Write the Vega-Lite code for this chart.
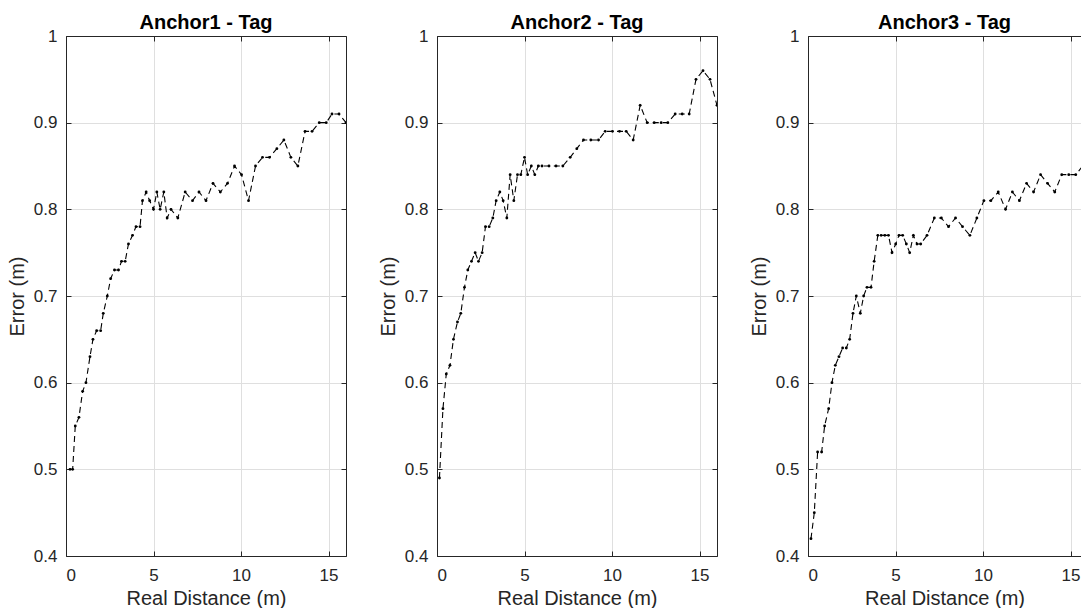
{
  "$schema": "https://vega.github.io/schema/vega-lite/v6.json",
  "background": "white",
  "padding": {"left": 7, "top": 13, "right": 0, "bottom": 0},
  "bounds": "flush",
  "spacing": 91,
  "config": {
    "view": {"stroke": null},
    "font": "Liberation Sans",
    "title": {"fontSize": 20, "fontWeight": "bold", "color": "#000000", "offset": -6, "baseline": "alphabetic", "anchor": "middle", "frame": "group"},
    "axis": {
      "labelFont": "Liberation Sans", "labelFontSize": 17, "labelColor": "#262626",
      "titleFont": "Liberation Sans", "titleFontSize": 20, "titleFontWeight": "normal", "titleColor": "#262626",
      "domainColor": "#262626", "domainWidth": 1, "tickColor": "#262626", "tickWidth": 1, "tickSize": -5,
      "gridColor": "#dfdfdf", "gridWidth": 1
    }
  },
  "datasets": {
    "anchor1": [
      {"d": 0.23, "e": 0.50}, {"d": 0.38, "e": 0.50}, {"d": 0.53, "e": 0.55}, {"d": 0.74, "e": 0.56},
      {"d": 0.95, "e": 0.59}, {"d": 1.14, "e": 0.60}, {"d": 1.37, "e": 0.63}, {"d": 1.54, "e": 0.65},
      {"d": 1.75, "e": 0.66}, {"d": 1.98, "e": 0.66}, {"d": 2.13, "e": 0.68}, {"d": 2.36, "e": 0.70},
      {"d": 2.55, "e": 0.72}, {"d": 2.77, "e": 0.73}, {"d": 3.0, "e": 0.73}, {"d": 3.17, "e": 0.74},
      {"d": 3.38, "e": 0.74}, {"d": 3.57, "e": 0.76}, {"d": 3.8, "e": 0.77}, {"d": 4.0, "e": 0.78},
      {"d": 4.23, "e": 0.78}, {"d": 4.37, "e": 0.81}, {"d": 4.58, "e": 0.82}, {"d": 4.78, "e": 0.81},
      {"d": 5.0, "e": 0.80}, {"d": 5.19, "e": 0.82}, {"d": 5.38, "e": 0.80}, {"d": 5.59, "e": 0.82},
      {"d": 5.78, "e": 0.79}, {"d": 6.0, "e": 0.80}, {"d": 6.39, "e": 0.79}, {"d": 6.81, "e": 0.82},
      {"d": 7.23, "e": 0.81}, {"d": 7.6, "e": 0.82}, {"d": 8.0, "e": 0.81}, {"d": 8.4, "e": 0.83},
      {"d": 8.82, "e": 0.82}, {"d": 9.23, "e": 0.83}, {"d": 9.63, "e": 0.85}, {"d": 10.03, "e": 0.84},
      {"d": 10.43, "e": 0.81}, {"d": 10.83, "e": 0.85}, {"d": 11.23, "e": 0.86}, {"d": 11.63, "e": 0.86},
      {"d": 12.05, "e": 0.87}, {"d": 12.45, "e": 0.88}, {"d": 12.85, "e": 0.86}, {"d": 13.25, "e": 0.85},
      {"d": 13.66, "e": 0.89}, {"d": 14.06, "e": 0.89}, {"d": 14.47, "e": 0.90}, {"d": 14.87, "e": 0.90},
      {"d": 15.2, "e": 0.91}, {"d": 15.6, "e": 0.91}, {"d": 16.0, "e": 0.90}
    ],
    "anchor2": [
      {"d": 0.14, "e": 0.49}, {"d": 0.34, "e": 0.57}, {"d": 0.53, "e": 0.61}, {"d": 0.74, "e": 0.62},
      {"d": 0.94, "e": 0.65}, {"d": 1.17, "e": 0.67}, {"d": 1.36, "e": 0.68}, {"d": 1.57, "e": 0.71},
      {"d": 1.76, "e": 0.73}, {"d": 1.97, "e": 0.74}, {"d": 2.18, "e": 0.75}, {"d": 2.37, "e": 0.74},
      {"d": 2.58, "e": 0.75}, {"d": 2.77, "e": 0.78}, {"d": 2.98, "e": 0.78}, {"d": 3.19, "e": 0.79},
      {"d": 3.38, "e": 0.81}, {"d": 3.59, "e": 0.82}, {"d": 3.78, "e": 0.81}, {"d": 3.99, "e": 0.79},
      {"d": 4.18, "e": 0.84}, {"d": 4.39, "e": 0.81}, {"d": 4.6, "e": 0.84}, {"d": 4.79, "e": 0.84},
      {"d": 5.0, "e": 0.86}, {"d": 5.18, "e": 0.84}, {"d": 5.39, "e": 0.85}, {"d": 5.59, "e": 0.84},
      {"d": 5.79, "e": 0.85}, {"d": 6.0, "e": 0.85}, {"d": 6.4, "e": 0.85}, {"d": 6.8, "e": 0.85},
      {"d": 7.19, "e": 0.85}, {"d": 7.61, "e": 0.86}, {"d": 7.99, "e": 0.87}, {"d": 8.37, "e": 0.88},
      {"d": 8.79, "e": 0.88}, {"d": 9.23, "e": 0.88}, {"d": 9.61, "e": 0.89}, {"d": 10.03, "e": 0.89},
      {"d": 10.43, "e": 0.89}, {"d": 10.81, "e": 0.89}, {"d": 11.21, "e": 0.88}, {"d": 11.61, "e": 0.92},
      {"d": 12.01, "e": 0.90}, {"d": 12.41, "e": 0.90}, {"d": 12.81, "e": 0.90}, {"d": 13.19, "e": 0.90},
      {"d": 13.61, "e": 0.91}, {"d": 14.01, "e": 0.91}, {"d": 14.41, "e": 0.91}, {"d": 14.8, "e": 0.95},
      {"d": 15.2, "e": 0.96}, {"d": 15.6, "e": 0.95}, {"d": 16.0, "e": 0.92}
    ],
    "anchor3": [
      {"d": 0.17, "e": 0.42}, {"d": 0.36, "e": 0.45}, {"d": 0.55, "e": 0.52}, {"d": 0.78, "e": 0.52},
      {"d": 0.95, "e": 0.55}, {"d": 1.18, "e": 0.57}, {"d": 1.37, "e": 0.60}, {"d": 1.56, "e": 0.62},
      {"d": 1.77, "e": 0.63}, {"d": 1.98, "e": 0.64}, {"d": 2.19, "e": 0.64}, {"d": 2.38, "e": 0.65},
      {"d": 2.57, "e": 0.68}, {"d": 2.76, "e": 0.70}, {"d": 2.99, "e": 0.68}, {"d": 3.18, "e": 0.70},
      {"d": 3.37, "e": 0.71}, {"d": 3.6, "e": 0.71}, {"d": 3.78, "e": 0.74}, {"d": 3.99, "e": 0.77},
      {"d": 4.18, "e": 0.77}, {"d": 4.39, "e": 0.77}, {"d": 4.6, "e": 0.77}, {"d": 4.8, "e": 0.75},
      {"d": 5.01, "e": 0.76}, {"d": 5.2, "e": 0.77}, {"d": 5.41, "e": 0.77}, {"d": 5.62, "e": 0.76},
      {"d": 5.81, "e": 0.75}, {"d": 6.02, "e": 0.77}, {"d": 6.23, "e": 0.76}, {"d": 6.44, "e": 0.76},
      {"d": 6.8, "e": 0.77}, {"d": 7.22, "e": 0.79}, {"d": 7.62, "e": 0.79}, {"d": 8.03, "e": 0.78},
      {"d": 8.43, "e": 0.79}, {"d": 8.83, "e": 0.78}, {"d": 9.25, "e": 0.77}, {"d": 9.65, "e": 0.79},
      {"d": 10.05, "e": 0.81}, {"d": 10.45, "e": 0.81}, {"d": 10.87, "e": 0.82}, {"d": 11.29, "e": 0.80},
      {"d": 11.68, "e": 0.82}, {"d": 12.08, "e": 0.81}, {"d": 12.49, "e": 0.83}, {"d": 12.89, "e": 0.82},
      {"d": 13.29, "e": 0.84}, {"d": 13.69, "e": 0.83}, {"d": 14.1, "e": 0.82}, {"d": 14.5, "e": 0.84},
      {"d": 14.9, "e": 0.84}, {"d": 15.3, "e": 0.84}, {"d": 15.7, "e": 0.85}, {"d": 16.0, "e": 0.85}
    ]
  },
  "hconcat": [
    {
      "width": 280, "height": 520,
      "title": {"text": "Anchor1 - Tag"},
      "data": {"name": "anchor1"},
      "layer": [
        {
          "mark": {"type": "line", "color": "#000000", "strokeWidth": 1.1, "strokeDash": [6, 4], "clip": true},
          "encoding": {
            "x": {"field": "d", "type": "quantitative", "scale": {"domain": [0, 16], "nice": false, "zero": false},
                  "axis": {"orient": "bottom", "values": [0, 5, 10, 15], "grid": true, "title": "Real Distance (m)", "labelPadding": 16, "titlePadding": 5}},
            "y": {"field": "e", "type": "quantitative", "scale": {"domain": [0.4, 1], "nice": false, "zero": false},
                  "axis": {"orient": "left", "values": [0.4, 0.5, 0.6, 0.7, 0.8, 0.9, 1], "format": "~g", "grid": true, "title": "Error (m)", "labelPadding": 14, "titlePadding": 6}}
          }
        },
        {
          "mark": {"type": "point", "filled": true, "color": "#000000", "opacity": 1, "size": 8, "clip": true},
          "encoding": {
            "x": {"field": "d", "type": "quantitative", "scale": {"domain": [0, 16], "nice": false, "zero": false},
                  "axis": {"orient": "top", "values": [0, 5, 10, 15], "grid": false, "labels": false, "title": null}},
            "y": {"field": "e", "type": "quantitative", "scale": {"domain": [0.4, 1], "nice": false, "zero": false},
                  "axis": {"orient": "right", "values": [0.4, 0.5, 0.6, 0.7, 0.8, 0.9, 1], "grid": false, "labels": false, "title": null}}
          }
        }
      ],
      "resolve": {"axis": {"x": "independent", "y": "independent"}}
    },
    {
      "width": 280, "height": 520,
      "title": {"text": "Anchor2 - Tag"},
      "data": {"name": "anchor2"},
      "layer": [
        {
          "mark": {"type": "line", "color": "#000000", "strokeWidth": 1.1, "strokeDash": [6, 4], "clip": true},
          "encoding": {
            "x": {"field": "d", "type": "quantitative", "scale": {"domain": [0, 16], "nice": false, "zero": false},
                  "axis": {"orient": "bottom", "values": [0, 5, 10, 15], "grid": true, "title": "Real Distance (m)", "labelPadding": 16, "titlePadding": 5}},
            "y": {"field": "e", "type": "quantitative", "scale": {"domain": [0.4, 1], "nice": false, "zero": false},
                  "axis": {"orient": "left", "values": [0.4, 0.5, 0.6, 0.7, 0.8, 0.9, 1], "format": "~g", "grid": true, "title": "Error (m)", "labelPadding": 14, "titlePadding": 6}}
          }
        },
        {
          "mark": {"type": "point", "filled": true, "color": "#000000", "opacity": 1, "size": 8, "clip": true},
          "encoding": {
            "x": {"field": "d", "type": "quantitative", "scale": {"domain": [0, 16], "nice": false, "zero": false},
                  "axis": {"orient": "top", "values": [0, 5, 10, 15], "grid": false, "labels": false, "title": null}},
            "y": {"field": "e", "type": "quantitative", "scale": {"domain": [0.4, 1], "nice": false, "zero": false},
                  "axis": {"orient": "right", "values": [0.4, 0.5, 0.6, 0.7, 0.8, 0.9, 1], "grid": false, "labels": false, "title": null}}
          }
        }
      ],
      "resolve": {"axis": {"x": "independent", "y": "independent"}}
    },
    {
      "width": 273, "height": 520,
      "title": {"text": "Anchor3 - Tag"},
      "data": {"name": "anchor3"},
      "layer": [
        {
          "mark": {"type": "line", "color": "#000000", "strokeWidth": 1.1, "strokeDash": [6, 4], "clip": true},
          "encoding": {
            "x": {"field": "d", "type": "quantitative", "scale": {"domain": [0, 15.6], "nice": false, "zero": false},
                  "axis": {"orient": "bottom", "values": [0, 5, 10, 15], "grid": true, "title": "Real Distance (m)", "labelPadding": 16, "titlePadding": 5}},
            "y": {"field": "e", "type": "quantitative", "scale": {"domain": [0.4, 1], "nice": false, "zero": false},
                  "axis": {"orient": "left", "values": [0.4, 0.5, 0.6, 0.7, 0.8, 0.9, 1], "format": "~g", "grid": true, "title": "Error (m)", "labelPadding": 14, "titlePadding": 6}}
          }
        },
        {
          "mark": {"type": "point", "filled": true, "color": "#000000", "opacity": 1, "size": 8, "clip": true},
          "encoding": {
            "x": {"field": "d", "type": "quantitative", "scale": {"domain": [0, 15.6], "nice": false, "zero": false},
                  "axis": {"orient": "top", "values": [0, 5, 10, 15], "grid": false, "labels": false, "title": null}},
            "y": {"field": "e", "type": "quantitative", "scale": {"domain": [0.4, 1], "nice": false, "zero": false},
                  "axis": null}
          }
        }
      ],
      "resolve": {"axis": {"x": "independent", "y": "independent"}}
    }
  ]
}
